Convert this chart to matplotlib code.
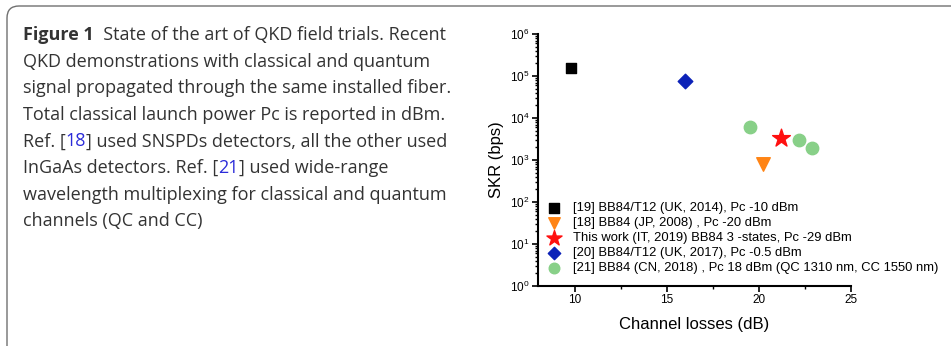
import numpy as np
import matplotlib
matplotlib.use("Agg")
import matplotlib.pyplot as plt
from matplotlib.patches import FancyBboxPatch
from matplotlib.text import Annotation
from matplotlib.ticker import FuncFormatter, LogLocator, MultipleLocator

# data
labels = [
    "[19] BB84/T12 (UK, 2014), Pc -10 dBm",
    "[18] BB84 (JP, 2008) , Pc -20 dBm",
    "This work (IT, 2019) BB84 3 -states, Pc -29 dBm",
    "[20] BB84/T12 (UK, 2017), Pc -0.5 dBm",
    "[21] BB84 (CN, 2018) , Pc 18 dBm (QC 1310 nm, CC 1550 nm)",
]
loss_19 = [9.8]
skr_19 = [1.55e5]
loss_18 = [20.2]
skr_18 = [800]
loss_this = [21.2]
skr_this = [3400]
loss_20 = [16.0]
skr_20 = [7.6e4]
loss_21 = [19.5, 22.2, 22.9]
skr_21 = [6000, 2950, 1950]

caption = [
    [("Figure 1", "bold", "t"), ("  State of the art of QKD field trials. Recent", "normal", "t")],
    [("QKD demonstrations with classical and quantum", "normal", "t")],
    [("signal propagated through the same installed fiber.", "normal", "t")],
    [("Total classical launch power Pc is reported in dBm.", "normal", "t")],
    [("Ref. [", "normal", "t"), ("18", "normal", "l"), ("] used SNSPDs detectors, all the other used", "normal", "t")],
    [("InGaAs detectors. Ref. [", "normal", "t"), ("21", "normal", "l"), ("] used wide-range", "normal", "t")],
    [("wavelength multiplexing for classical and quantum", "normal", "t")],
    [("channels (QC and CC)", "normal", "t")],
]

W, H = 951, 346
fig = plt.figure(figsize=(W / 100, H / 100), dpi=100)

# rounded frame around the figure block
frame = FancyBboxPatch((0.07, -0.6), 10.0, 4.0, boxstyle="round,pad=0,rounding_size=0.12",
                       transform=fig.dpi_scale_trans, fill=False, ec="#707070", lw=1.0)
fig.patches.append(frame)

# caption text, pieces chained one after another
cap_font = "Open Sans"
cap_size = 13.0
colors = {"t": "#333333", "l": "#2b2bd9"}
y0 = 1 - 40 / H
dy = 26.6 / H
for i, line in enumerate(caption):
    last = None
    for s, w, c in line:
        if last is None:
            last = fig.text(23 / W, y0 - i * dy, s, family=cap_font, size=cap_size,
                            weight=w, color=colors[c], va="baseline")
        else:
            last = fig.add_artist(Annotation(s, xy=(1, 0), xycoords=last, family=cap_font,
                                             size=cap_size, weight=w, color=colors[c],
                                             va="bottom"))

# chart
plt.rcParams["font.family"] = ["Liberation Sans", "DejaVu Sans"]
ax = fig.add_axes([538 / W, 1 - 286 / H, (851 - 538) / W, (286 - 34) / H])
ax.scatter(loss_19, skr_19, marker="s", s=60, color="black", label=labels[0], zorder=3)
ax.scatter(loss_18, skr_18, marker="v", s=95, color="#ff8415", label=labels[1], zorder=3)
ax.scatter(loss_this, skr_this, marker="*", s=180, color="#ff1010", label=labels[2], zorder=3)
ax.scatter(loss_20, skr_20, marker="D", s=55, color="#0c22b8", label=labels[3], zorder=3)
ax.scatter(loss_21, skr_21, marker="o", s=80, color="#88d088", label=labels[4], zorder=3)

ax.set_yscale("log")
ax.set_xlim(8, 25)
ax.set_ylim(1, 1e6)
ax.xaxis.set_major_locator(MultipleLocator(5))
ax.xaxis.set_minor_locator(MultipleLocator(2.5))
ax.yaxis.set_major_locator(LogLocator(base=10, numticks=10))
ax.yaxis.set_minor_locator(LogLocator(base=10, subs=np.arange(2, 10), numticks=20))
ax.yaxis.set_major_formatter(FuncFormatter(lambda v, p: r"$\mathregular{10^{%d}}$" % round(np.log10(v))))
for side in ["top", "right"]:
    ax.spines[side].set_visible(False)
for side in ["left", "bottom"]:
    ax.spines[side].set_linewidth(1.5)
ax.tick_params(which="major", direction="out", length=4, width=1.2, labelsize=8.5, pad=2)
ax.tick_params(which="minor", direction="out", length=2.5, width=1.0)
ax.set_xlabel("Channel losses (dB)", size=12, labelpad=8)
ax.set_ylabel("SKR (bps)", size=12, labelpad=4)

ax.legend(loc="upper left", bbox_to_anchor=(-0.01, 0.36), frameon=False, fontsize=9.4,
          handletextpad=0.45, labelspacing=0.22, borderpad=0, scatterpoints=1,
          markerscale=0.85)

fig.savefig("out.png", dpi=100)
